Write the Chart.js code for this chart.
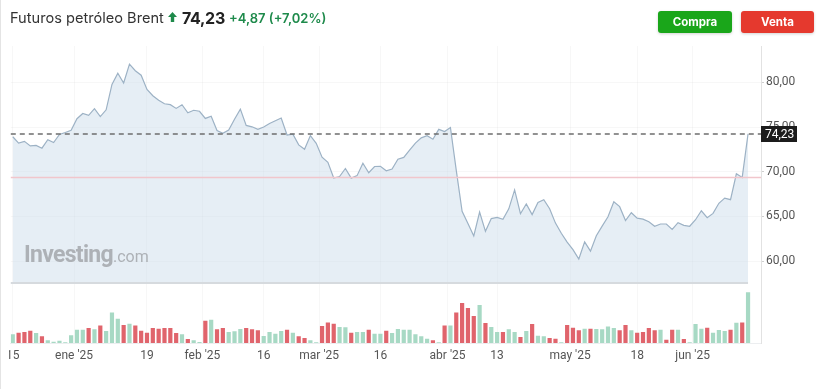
<!DOCTYPE html>
<html lang="es">
<head>
<meta charset="utf-8">
<script src="https://cdn.jsdelivr.net/npm/chart.js@4.4.1/dist/chart.umd.min.js"></script>
<style>
  html, body { margin: 0; padding: 0; background: #fff; }
  body { width: 822px; height: 389px; position: relative; overflow: hidden; font-family: Inter, Roboto, "Noto Sans", Arial, sans-serif; }
  #c { position: absolute; left: 0; top: 0; }
  .edge { position: absolute; left: 0; top: 0; width: 1px; height: 389px; background: #e4e4e4; }
  .clip { position: absolute; left: 1px; top: 346px; width: 8px; height: 20px; background: #fff; }
  .t { position: absolute; top: 7px; height: 22px; line-height: 22px; white-space: nowrap; }
  .name { left: 10px; font-size: 14.6px; color: #333; }
  .arrow { left: 168px; top: 12px; height: auto; line-height: 0; }
  .last { left: 182px; font-size: 16px; font-weight: 700; color: #222; letter-spacing: -0.3px; }
  .chg { left: 229px; font-size: 13px; font-weight: 600; color: #1e8a4b; }
  .btn { position: absolute; top: 11px; width: 74px; height: 22px; line-height: 22px; border-radius: 3px;
         color: #fff; font-size: 11.5px; font-weight: 700; text-align: center; box-shadow: 0 1px 3px rgba(0,0,0,0.18); }
  .buy { left: 658px; background: #1aa61a; }
  .sell { left: 741px; width: 73px; background: #e5392e; }
  .wm { position: absolute; left: 24px; top: 241px; color: #adb1b6; white-space: nowrap; font-family: Roboto, Arial, sans-serif; }
  .wm b { font-size: 23px; font-weight: 700; letter-spacing: -0.7px; }
  .wm span { font-size: 16px; }
</style>
</head>
<body>
<canvas id="c" width="822" height="389"></canvas>
<div class="edge"></div>
<div class="clip"></div>
<div class="t name">Futuros petróleo Brent</div>
<div class="t arrow"><svg width="9" height="10" viewBox="0 0 9 10"><path d="M4.5 0 L9 5 L6.2 5 L6.2 10 L2.8 10 L2.8 5 L0 5 Z" fill="#1e8a4b"/></svg></div>
<div class="t last">74,23</div>
<div class="t chg">+4,87 (+7,02%)</div>
<div class="btn buy">Compra</div>
<div class="btn sell">Venta</div>
<div class="wm"><b>Investing</b><span>.com</span></div>

<script>
// trading days, 16 dic 2024 -> 13 jun 2025
const dates = [
  '16/12','17/12','18/12','19/12','20/12','23/12','24/12','26/12','27/12','30/12','31/12',
  '02/01','03/01','06/01','07/01','08/01','09/01','10/01','13/01','14/01','15/01','16/01','17/01',
  '20/01','21/01','22/01','23/01','24/01','27/01','28/01','29/01','30/01','31/01',
  '03/02','04/02','05/02','06/02','07/02','10/02','11/02','12/02','13/02','14/02',
  '17/02','18/02','19/02','20/02','21/02','24/02','25/02','26/02','27/02','28/02',
  '03/03','04/03','05/03','06/03','07/03','10/03','11/03','12/03','13/03','14/03',
  '17/03','18/03','19/03','20/03','21/03','24/03','25/03','26/03','27/03','28/03','31/03',
  '01/04','02/04','03/04','04/04','07/04','08/04','09/04','10/04','11/04',
  '14/04','15/04','16/04','17/04','21/04','22/04','23/04','24/04','25/04','28/04','29/04','30/04',
  '01/05','02/05','05/05','06/05','07/05','08/05','09/05','12/05','13/05','14/05','15/05','16/05',
  '19/05','20/05','21/05','22/05','23/05','26/05','27/05','28/05','29/05','30/05',
  '02/06','03/06','04/06','05/06','06/06','09/06','10/06','11/06','12/06','13/06'
];

const closes = [
  73.91, 73.19, 73.39, 72.88, 72.94, 72.63, 73.58, 73.26, 74.17, 74.39, 74.64,
  75.93, 76.51, 76.30, 77.05, 76.16, 76.92, 79.76, 81.01, 79.92, 82.03, 81.29, 80.79,
  79.2, 78.5, 78.0, 77.6, 77.5, 77.08, 77.49, 76.58, 76.87, 76.76,
  75.96, 76.20, 74.61, 74.29, 74.66, 75.87, 77.00, 75.18, 75.02, 74.74,
  75.0, 75.4, 75.7, 76.0, 74.1, 74.2, 73.0, 72.5, 74.04, 73.18,
  71.62, 71.04, 69.30, 69.46, 70.36, 69.28, 69.56, 70.95, 69.88, 70.58,
  70.6, 70.1, 70.3, 71.4, 71.6, 72.4, 73.2, 73.79, 74.03, 73.63, 74.74,
  74.49, 74.95, 70.14, 65.58, 64.21, 62.82, 65.48, 63.33, 64.76,
  64.88, 64.67, 65.85, 67.96, 65.3, 66.4, 65.2, 66.55, 66.87, 65.86, 64.25, 63.12,
  62.13, 61.29, 60.23, 62.15, 61.12, 62.84, 63.91, 64.96, 66.63, 66.09, 64.53, 65.41,
  64.8, 64.7, 64.4, 63.9, 64.15, 64.15, 63.55, 64.3, 64.0, 63.90,
  64.63, 65.63, 64.86, 65.34, 66.47, 67.04, 66.87, 69.77, 69.36, 74.23
];

// volume, thousands of lots
const volumes = [
  78, 93, 99, 111, 90, 60, 24, 12, 21, 6, 69,
  120, 120, 135, 123, 159, 108, 276, 219, 162, 174, 159, 111,
  93, 135, 129, 135, 135, 90, 78, 36, 24, 9,
  201, 210, 123, 135, 99, 105, 126, 135, 123, 114,
  63, 99, 84, 108, 120, 93, 60, 45, 24, 6,
  153, 186, 174, 144, 141, 93, 99, 99, 120, 84,
  84, 111, 90, 126, 120, 120, 78, 60, 39, 24, 6,
  159, 159, 276, 360, 315, 243, 342, 180, 144,
  99, 99, 123, 99, 54, 108, 171, 66, 60, 45, 39, 6,
  162, 138, 114, 129, 129, 126, 123, 150, 135, 114, 162, 114,
  93, 99, 135, 114, 120, 30, 120, 120, 36, 6,
  171, 129, 138, 93, 117, 108, 120, 183, 186, 459
];

// 1 = green bar, 0 = red bar
const volUp = [
  1, 0, 0, 0, 1, 0, 1, 1, 1, 1, 1,
  1, 1, 0, 1, 0, 1, 1, 1, 0, 1, 0, 0,
  0, 0, 0, 0, 0, 0, 1, 0, 1, 1,
  0, 1, 0, 0, 1, 1, 1, 0, 0, 0,
  1, 1, 1, 1, 0, 1, 0, 0, 1, 1,
  0, 0, 0, 1, 1, 0, 1, 1, 0, 1,
  1, 0, 1, 1, 1, 1, 1, 1, 1, 0, 1,
  0, 1, 0, 0, 0, 0, 1, 0, 1,
  1, 0, 1, 1, 0, 1, 0, 1, 1, 0, 0, 1,
  0, 0, 0, 1, 0, 1, 1, 1, 1, 0, 0, 1,
  0, 0, 0, 0, 1, 0, 0, 1, 0, 1,
  1, 1, 0, 1, 1, 1, 0, 1, 0, 1
];

// x axis labels (position = trading day index)
const tickPos = [0, 10.5, 23, 32.5, 43, 52.5, 63, 74.5, 83, 95.5, 107, 116.5];
const tickText = ['15', "ene '25", '19', "feb '25", '16', "mar '25", '16', "abr '25", '13', "may '25", '18', "jun '25"];
const priceTicks = [60, 65, 70, 75, 80];

const lastPrice = 74.23;
const prevClose = 69.36;
const paneFloor = 57.67;   // bottom of the price pane

const priceData = closes.map((v, i) => ({ x: i, y: v }));
const volData = volumes.map((v, i) => ({ x: i, y: v }));
const volColors = volUp.map(u => u ? '#a7d9c4' : '#e0646c');

const fmt = v => v.toFixed(2).replace('.', ',');

const overlay = {
  id: 'overlay',
  afterDatasetsDraw(chart) {
    const { ctx, chartArea: a, scales: { x, y } } = chart;
    ctx.save();
    // separator between price and volume
    const yb = Math.round(y.getPixelForValue(paneFloor));
    ctx.strokeStyle = '#d6dade';
    ctx.lineWidth = 2;
    ctx.beginPath();
    ctx.moveTo(a.left, yb + 1);
    ctx.lineTo(x.getPixelForValue(closes.length - 1), yb + 1);
    ctx.stroke();
    // previous close
    const yp = y.getPixelForValue(prevClose);
    ctx.strokeStyle = '#f1c6cc';
    ctx.lineWidth = 1.5;
    ctx.beginPath();
    ctx.moveTo(a.left, yp);
    ctx.lineTo(a.right, yp);
    ctx.stroke();
    // last price
    const yl = Math.round(y.getPixelForValue(lastPrice));
    ctx.setLineDash([5, 4]);
    ctx.strokeStyle = '#6e6e6e';
    ctx.lineWidth = 1.5;
    ctx.beginPath();
    ctx.moveTo(a.left, yl);
    ctx.lineTo(a.right, yl);
    ctx.stroke();
    ctx.restore();
  },
  afterDraw(chart) {
    const { ctx, chartArea: a, scales: { y } } = chart;
    const yl = Math.round(y.getPixelForValue(lastPrice));
    ctx.save();
    ctx.fillStyle = '#1c1c1c';
    ctx.fillRect(a.right, yl - 8, 36, 16);
    ctx.fillStyle = '#fff';
    ctx.font = '12px Roboto, Arial, sans-serif';
    ctx.textBaseline = 'middle';
    ctx.fillText(fmt(lastPrice), a.right + 4, yl + 0.5);
    ctx.restore();
  }
};

new Chart(document.getElementById('c'), {
  data: {
    labels: dates,
    datasets: [
      {
        type: 'line',
        data: priceData,
        yAxisID: 'y',
        borderColor: '#9db2c5',
        borderWidth: 1.2,
        pointRadius: 0,
        tension: 0,
        fill: { value: paneFloor },
        backgroundColor: 'rgba(200,218,233,0.45)',
        order: 1
      },
      {
        type: 'bar',
        data: volData,
        yAxisID: 'yv',
        backgroundColor: volColors,
        barPercentage: 0.72,
        categoryPercentage: 1,
        order: 2
      }
    ]
  },
  options: {
    responsive: false,
    animation: false,
    layout: { padding: { left: 9.5, top: 46, right: 0, bottom: 0 } },
    plugins: { legend: { display: false }, tooltip: { enabled: false } },
    scales: {
      x: {
        type: 'linear',
        offset: false,
        min: -0.34,
        max: 128.22,
        afterBuildTicks: s => { s.ticks = tickPos.map(v => ({ value: v })); },
        afterFit: s => { s.height = 46; },
        ticks: {
          autoSkip: false,
          maxRotation: 0,
          padding: 6,
          color: '#555',
          font: { family: 'Roboto, Arial, sans-serif', size: 12 },
          callback: v => tickText[tickPos.indexOf(v)] ?? ''
        },
        grid: { color: 'rgba(0,0,0,0.03)', drawTicks: false, offset: false },
        border: { color: '#eceef0' }
      },
      y: {
        position: 'right',
        min: 50.84,
        max: 84.06,
        afterBuildTicks: s => { s.ticks = priceTicks.map(v => ({ value: v })); },
        afterFit: s => { s.width = 61; },
        ticks: {
          padding: 2,
          color: '#555',
          font: { family: 'Roboto, Arial, sans-serif', size: 12 },
          callback: v => fmt(v)
        },
        grid: { color: 'rgba(0,0,0,0.03)', tickLength: 3, tickColor: '#cfcfcf' },
        border: { color: '#e2e2e2' }
      },
      yv: { display: false, min: 0, max: 2680 }
    }
  },
  plugins: [overlay]
});
</script>
</body>
</html>
